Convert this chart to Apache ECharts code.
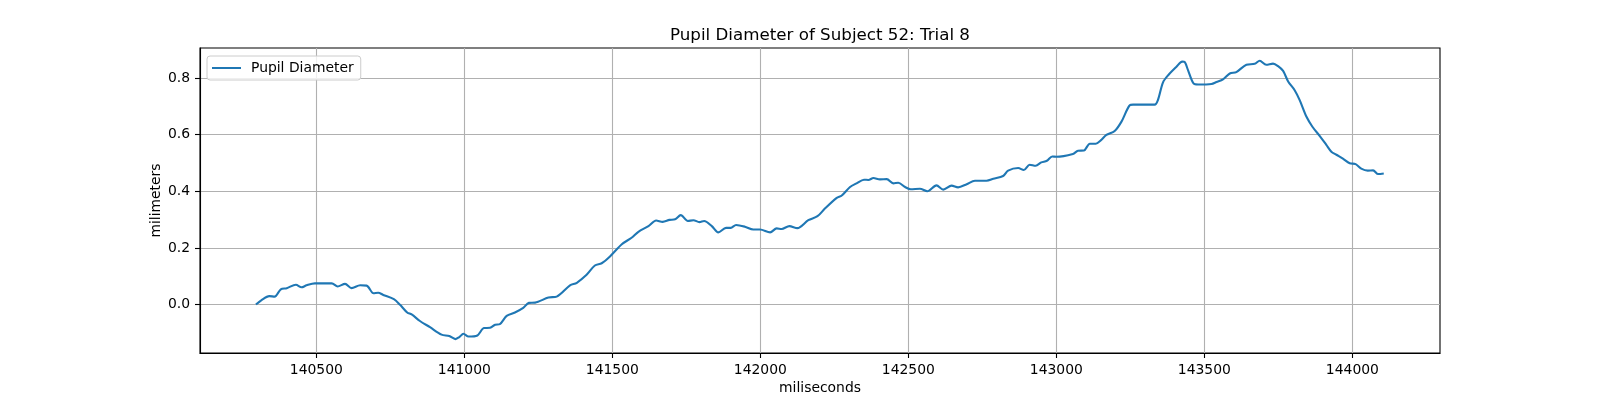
<!DOCTYPE html>
<html>
<head>
<meta charset="utf-8">
<script src="https://cdn.jsdelivr.net/npm/echarts@6/dist/echarts.min.js"></script>
<style>
  html, body { margin: 0; padding: 0; background: #fff; }
  #chart { width: 1600px; height: 400px; }
</style>
</head>
<body>
<div id="chart"></div>
<script>
// time stamps (ms) and pupil diameter (mm)
const timesMs = [140296,140315,140341,140359,140380,140400,140431,140450,140467,140495,140552,140572,140597,140619,140648,140670,140693,140709,140726,140762,140783,140807,140822,140850,140884,140923,140949,140970,140983,140997,141014,141044,141066,141087,141104,141120,141143,141171,141199,141218,141239,141284,141312,141357,141380,141413,141441,141464,141492,
  141532,141565,141588,141622,141648,141670,141693,141712,141731,141755,141774,141794,141810,141836,141858,141884,141900,141918,141948,141976,141999,142033,142055,142072,142098,142125,142162,142193,142218,142258,142275,142303,142325,142350,142365,142382,142404,142427,142449,142466,142489,142508,142539,142564,142595,142618,142646,142668,142697,142725,142764,142787,
  142820,142837,142871,142890,142910,142930,142949,142968,142986,143000,143056,143073,143093,143113,143133,143150,143169,143197,143220,143248,143259,143332,143343,143360,143377,143405,143425,143434,143445,143464,143479,143524,143541,143563,143586,143608,143642,143670,143687,143709,143732,143749,143766,143783,143805,143822,143845,143865,143890,143912,143929,143946,143968,143991,144011,144030,144052,144070,144087,144106];
const pupilMm = [0.000,0.016,0.030,0.028,0.054,0.058,0.070,0.061,0.068,0.075,0.075,0.064,0.073,0.058,0.068,0.067,0.040,0.042,0.034,0.019,-0.001,-0.028,-0.035,-0.058,-0.080,-0.106,-0.111,-0.122,-0.115,-0.103,-0.113,-0.109,-0.083,-0.082,-0.071,-0.069,-0.040,-0.028,-0.012,0.006,0.007,0.025,0.028,0.068,0.077,0.105,0.138,0.146,0.170,
  0.213,0.236,0.257,0.277,0.297,0.292,0.299,0.301,0.316,0.295,0.298,0.291,0.295,0.277,0.255,0.271,0.271,0.281,0.275,0.265,0.265,0.255,0.269,0.267,0.277,0.270,0.298,0.312,0.339,0.377,0.385,0.415,0.428,0.441,0.440,0.447,0.442,0.443,0.428,0.430,0.415,0.407,0.409,0.400,0.421,0.406,0.420,0.414,0.425,0.437,0.437,0.444,
  0.454,0.473,0.482,0.475,0.494,0.490,0.502,0.508,0.523,0.522,0.532,0.543,0.544,0.568,0.568,0.580,0.599,0.613,0.646,0.704,0.706,0.706,0.722,0.784,0.809,0.839,0.858,0.856,0.827,0.780,0.777,0.779,0.786,0.795,0.816,0.821,0.847,0.850,0.861,0.847,0.851,0.842,0.825,0.788,0.757,0.722,0.663,0.628,0.595,0.564,0.540,0.529,0.515,0.499,0.496,0.480,0.473,0.474,0.461,0.463];
const xTicks = [140500,141000,141500,142000,142500,143000,143500,144000];
const yTicks = [0, 0.2, 0.4, 0.6, 0.8];

var myChart = echarts.init(document.getElementById('chart'));
var font = 'DejaVu Sans';

option = {
    animation: false,
    textStyle: { fontFamily: font },
    title: {
        text: 'Pupil Diameter of Subject 52: Trial 8',
        left: 670,
        top: 27,
        padding: 0,
        textStyle: { fontFamily: font, fontSize: 16.7, fontWeight: 'normal', color: '#000' }
    },
    legend: {
        left: 207,
        top: 56,
        padding: [5, 7, 5, 5],
        itemWidth: 29,
        itemHeight: 2,
        icon: 'rect',
        borderColor: '#cccccc',
        borderWidth: 1,
        borderRadius: 3,
        backgroundColor: 'rgba(255,255,255,0.8)',
        textStyle: { fontFamily: font, fontSize: 13.9, color: '#000', padding: [0, 0, 0, 5] },
        data: ['Pupil Diameter']
    },
    grid: {
        left: 200,
        right: 160,
        top: 48,
        bottom: 44,
        show: true,
        borderColor: '#000',
        borderWidth: 1.1,
        backgroundColor: '#fff'
    },
    xAxis: {
        type: 'value',
        min: 140107,
        max: 144296,
        name: 'miliseconds',
        nameLocation: 'middle',
        nameGap: 28,
        nameMoveOverlap: false,
        nameTextStyle: { fontFamily: font, fontSize: 13.9, color: '#000' },
        axisLine: { show: true, onZero: false, lineStyle: { color: '#000', width: 1.1 } },
        axisTick: { show: true, inside: false, length: 5, customValues: xTicks, lineStyle: { color: '#000', width: 1.1 } },
        axisLabel: {
            customValues: xTicks,
            margin: 10,
            fontFamily: font,
            fontSize: 13.9,
            color: '#000',
            formatter: function (v) { return String(v); }
        },
        splitLine: { show: true, lineStyle: { color: '#b0b0b0', width: 1.1 } }
    },
    yAxis: {
        type: 'value',
        min: -0.171,
        max: 0.906,
        name: 'milimeters',
        nameLocation: 'middle',
        nameGap: 37,
        nameMoveOverlap: false,
        nameTextStyle: { fontFamily: font, fontSize: 13.9, color: '#000' },
        axisLine: { show: true, onZero: false, lineStyle: { color: '#000', width: 1.1 } },
        axisTick: { show: true, inside: false, length: 5, customValues: yTicks, lineStyle: { color: '#000', width: 1.1 } },
        axisLabel: {
            customValues: yTicks,
            margin: 10,
            fontFamily: font,
            fontSize: 13.9,
            color: '#000',
            formatter: function (v) { return v.toFixed(1); }
        },
        splitLine: { show: true, lineStyle: { color: '#b0b0b0', width: 1.1 } }
    },
    series: [{
        name: 'Pupil Diameter',
        type: 'line',
        symbol: 'none',
        smooth: 0.3,
        data: timesMs.map(function (t, i) { return [t, pupilMm[i]]; }),
        lineStyle: { color: '#1f77b4', width: 2.1 },
        itemStyle: { color: '#1f77b4' }
    }]
};

myChart.setOption(option);
window.addEventListener('resize', function() { myChart.resize(); })
</script>
</body>
</html>
